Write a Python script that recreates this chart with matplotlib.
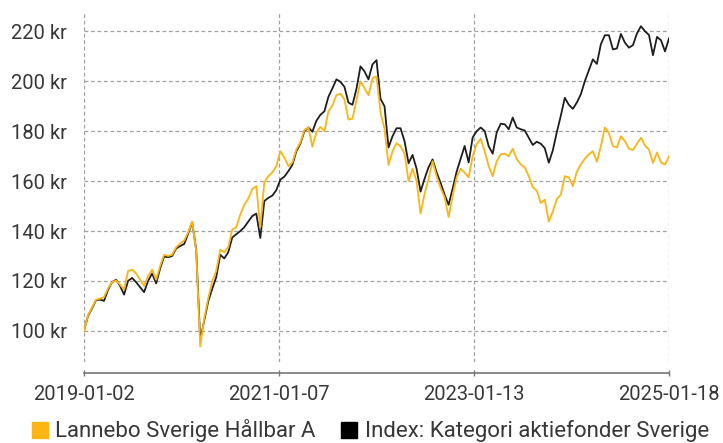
import matplotlib
matplotlib.use("Agg")
import matplotlib.pyplot as plt
import matplotlib.ticker as mticker
from matplotlib.lines import Line2D
import pandas as pd

plt.rcParams['font.family'] = ['Roboto', 'DejaVu Sans']

# fund vs category index, both rebased to 100 kr at start
start_date = "2019-01-02"
end_date = "2025-01-18"

fund_name = "Lannebo Sverige Hållbar A"
index_name = "Index: Kategori aktiefonder Sverige"

fund = [
    100.0, 106.3, 109.3, 112.5, 112.9, 113.5, 117.0, 119.5, 120.2, 118.5,
    116.5, 124.0, 124.5, 123.0, 120.5, 118.0, 122.0, 124.5, 120.5, 126.0,
    130.5, 130.0, 130.5, 133.5, 135.0, 136.2, 139.5, 143.8, 132.0, 93.7,
    105.0, 113.0, 119.8, 124.0, 132.5, 131.5, 133.5, 140.6, 141.5, 146.6,
    150.5, 153.0, 156.8, 158.0, 141.5, 159.5, 162.0, 163.5, 166.0, 172.0,
    169.5, 166.0, 167.5, 172.7, 175.5, 180.5, 181.5, 173.8, 179.5, 181.8,
    180.0, 188.0, 190.3, 194.5, 195.0, 192.8, 184.7, 185.0, 192.5, 200.0,
    197.2, 194.4, 201.2, 202.0, 187.5, 181.0, 166.5, 172.0, 175.2, 174.0,
    171.0, 160.0, 165.0, 160.0, 147.0, 155.0, 161.0, 168.0, 162.0, 157.3,
    153.5, 145.6, 154.2, 161.5, 165.0, 163.4, 161.5, 170.0, 174.8, 177.0,
    172.0, 166.0, 162.0, 168.0, 170.8, 171.0, 170.0, 173.0, 168.8, 166.7,
    165.5, 162.0, 157.6, 156.2, 151.2, 152.6, 143.8, 147.8, 152.8, 154.6,
    162.0, 161.5, 158.0, 163.8, 166.7, 169.0, 170.8, 172.0, 167.8, 174.1,
    181.5, 179.3, 174.0, 173.5, 178.0, 176.0, 173.0, 172.5, 175.0, 177.4,
    174.3, 172.6, 167.3, 171.5, 167.5, 166.6, 170.0,
]

index = [
    100.0, 106.0, 109.0, 112.3, 112.5, 112.0, 116.5, 119.5, 120.5, 118.0,
    114.5, 120.0, 121.2, 119.5, 117.5, 115.5, 120.0, 123.0, 119.0, 125.0,
    129.8, 129.5, 130.0, 133.0, 134.0, 134.8, 139.0, 143.5, 132.5, 96.4,
    104.0, 111.8, 116.8, 121.5, 130.5, 129.0, 131.5, 137.4, 138.7, 140.0,
    141.5, 143.8, 146.0, 147.0, 137.2, 152.0, 153.3, 154.2, 156.4, 160.6,
    161.8, 164.0, 166.5, 172.0, 175.0, 180.0, 181.5, 179.8, 184.2, 186.6,
    188.0, 193.8, 197.2, 200.8, 199.8, 197.8, 191.5, 190.6, 197.0, 206.0,
    204.0, 200.8, 206.8, 208.5, 193.0, 190.0, 173.5, 178.0, 181.2, 181.2,
    176.0, 167.2, 170.5, 165.0, 155.8, 161.0, 165.6, 168.7, 163.5, 159.3,
    154.5, 150.5, 157.0, 163.8, 169.0, 174.1, 167.5, 177.5, 180.0, 181.5,
    180.1, 174.0, 171.0, 179.5, 183.0, 182.8, 180.8, 185.5, 181.5, 180.8,
    180.3, 177.4, 174.5, 175.8, 175.0, 173.2, 167.4, 172.3, 179.6, 186.2,
    193.4, 190.6, 189.0, 191.5, 194.8, 200.1, 204.5, 208.8, 207.0, 214.9,
    218.5, 218.5, 212.8, 213.2, 219.0, 215.5, 213.5, 214.5, 219.2, 222.1,
    220.1, 218.6, 210.5, 217.8, 216.5, 212.0, 217.2,
]

x_ticks = ["2019-01-02", "2021-01-07", "2023-01-13", "2025-01-18"]
y_ticks = [100, 120, 140, 160, 180, 200, 220]

dates = pd.date_range(start_date, end_date, periods=len(fund))

yellow = "#FBB515"
dark = "#1e1e1e"
text_col = "#383838"
grid_col = "#a0a0a0"

fig = plt.figure(figsize=(7.23, 4.43), dpi=100)
ax = fig.add_axes([84 / 723, 81 / 443, 585 / 723, 350 / 443])

ax.plot(dates, index, color=dark, lw=1.3, zorder=3)
ax.plot(dates, fund, color=yellow, lw=1.3, zorder=4)

ax.set_xlim(pd.Timestamp(start_date), pd.Timestamp(end_date))
ax.set_ylim(87.5, 227.8)

ax.set_xticks([pd.Timestamp(t) for t in x_ticks])
ax.set_xticklabels(x_ticks)
ax.set_yticks(y_ticks)
ax.yaxis.set_major_formatter(mticker.FuncFormatter(lambda v, p: f"{v:.0f} kr"))

ax.grid(True, color=grid_col, lw=0.9, linestyle=(0, (3, 2.2)))
ax.xaxis.get_gridlines()[-1].set_visible(False)

for side in ["top", "right", "left"]:
    ax.spines[side].set_visible(False)
ax.spines["bottom"].set_position(("outward", 8))
ax.spines["bottom"].set_color("#777777")
ax.spines["bottom"].set_linewidth(1.2)

ax.tick_params(axis="y", length=0, pad=12.5, labelsize=14.5, labelcolor=text_col)
ax.tick_params(axis="x", direction="inout", length=5, width=1, color="#777777",
               pad=6, labelsize=14.5, labelcolor=text_col)

handles = [
    Line2D([], [], marker="s", color=yellow, lw=0, markersize=11.5),
    Line2D([], [], marker="s", color="black", lw=0, markersize=11.5),
]
fig.legend(handles, [fund_name, index_name], loc="center left",
           bbox_to_anchor=(22 / 723, 1 - 431 / 443), ncol=2, frameon=False,
           fontsize=16, labelcolor=text_col, handlelength=0.8,
           handletextpad=0.3, columnspacing=1.1, borderaxespad=0)

fig.savefig("out.png", dpi=100)
